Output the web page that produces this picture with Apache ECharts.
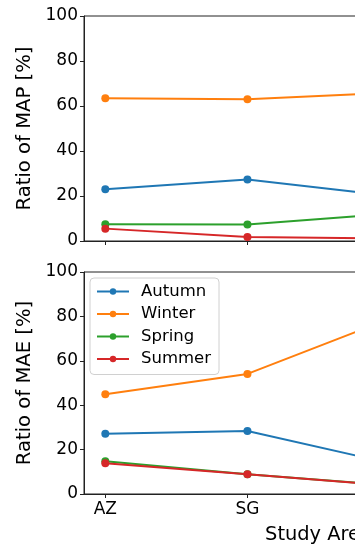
<!DOCTYPE html>
<html>
<head>
<meta charset="utf-8">
<script src="https://cdn.jsdelivr.net/npm/echarts@6/dist/echarts.min.js"></script>
<style>
html,body{margin:0;padding:0;overflow:hidden;background:#fff;width:355px;height:545px;}
#c{width:640px;height:545px;}
</style>
</head>
<body>
<div id="c"></div>
<script>
const categories = ['AZ', 'SG', 'C3', 'C4'];
const seasons = ['Autumn', 'Winter', 'Spring', 'Summer'];
const colors = ['#1f77b4', '#ff7f0e', '#2ca02c', '#d62728'];
// Ratio of MAP [%]
const mapAutumn = [23.0, 27.3, 20.1, 21.0];
const mapWinter = [63.4, 63.0, 65.9, 64.0];
const mapSpring = [7.4, 7.3, 12.1, 11.0];
const mapSummer = [5.5, 1.8, 1.1, 2.0];
// Ratio of MAE [%]
const maeAutumn = [27.1, 28.4, 13.9, 15.0];
const maeWinter = [44.9, 54.1, 78.9, 70.0];
const maeSpring = [14.8, 8.9, 3.9, 4.0];
const maeSummer = [13.8, 8.9, 3.8, 4.0];

const mapData = [mapAutumn, mapWinter, mapSpring, mapSummer];
const maeData = [maeAutumn, maeWinter, maeSpring, maeSummer];
const idx = categories.map((c, i) => i);
const pairs = arr => arr.map((v, i) => [i, v]);

const FONT = 'DejaVu Sans';
const txt = '#000';

function xAxis(gi, showLabels) {
  return {
    type: 'value', gridIndex: gi, min: -0.15, max: 3.15,
    splitLine: {show: false},
    axisLine: {show: true, onZero: false, lineStyle: {color: '#222', width: 1}},
    axisTick: {show: true, customValues: idx, length: 4, lineStyle: {color: '#222', width: 1}},
    axisLabel: {show: showLabels, customValues: idx, margin: 7,
      formatter: v => categories[Math.round(v)] || '',
      color: txt, fontFamily: FONT, fontSize: 17},
    name: showLabels ? 'Study Area' : '',
    nameLocation: 'middle', nameGap: 31,
    nameTextStyle: {color: txt, fontFamily: FONT, fontSize: 19.4}
  };
}
function yAxis(gi, name) {
  return {
    type: 'value', gridIndex: gi, min: 0, max: 100, interval: 20,
    splitLine: {show: false},
    axisLine: {show: true, onZero: false, lineStyle: {color: '#222', width: 1}},
    axisTick: {show: true, length: 4, lineStyle: {color: '#222', width: 1}},
    axisLabel: {color: txt, fontFamily: FONT, fontSize: 17, margin: 6},
    name: name, nameLocation: 'middle', nameGap: 41, nameRotate: 90,
    nameTextStyle: {color: txt, fontFamily: FONT, fontSize: 19.6}
  };
}
function makeSeries(data, gi) {
  return data.map((arr, k) => ({
    name: seasons[k], type: 'line', xAxisIndex: gi, yAxisIndex: gi,
    data: pairs(arr), symbol: 'circle', symbolSize: 8, showSymbol: true,
    itemStyle: {color: colors[k]},
    lineStyle: {color: colors[k], width: 2},
    animation: false, z: 2 + k
  }));
}

const chart = echarts.init(document.getElementById('c'), null, {renderer: 'canvas'});
chart.setOption({
  animation: false,
  color: colors,
  grid: [
    {left: 84, top: 16, width: 469, height: 225, show: true, borderColor: '#222', borderWidth: 1, backgroundColor: 'transparent'},
    {left: 84, top: 272, width: 469, height: 225, show: true, borderColor: '#222', borderWidth: 1, backgroundColor: 'transparent'}
  ],
  xAxis: [xAxis(0, false), xAxis(1, true)],
  yAxis: [yAxis(0, 'Ratio of MAP [%]'), yAxis(1, 'Ratio of MAE [%]')],
  legend: {
    data: seasons, orient: 'vertical', left: 90, top: 278,
    backgroundColor: 'rgba(255,255,255,0.8)', borderColor: '#d0d0d0', borderWidth: 1, borderRadius: 4,
    padding: [5, 8, 7, 6], itemGap: 5.5, itemWidth: 32, itemHeight: 8,
    textStyle: {color: txt, fontFamily: FONT, fontSize: 16.5, lineHeight: 17, padding: [0, 0, 0, 7]}
  },
  series: [...makeSeries(mapData, 0), ...makeSeries(maeData, 1)]
});
</script>
</body>
</html>
